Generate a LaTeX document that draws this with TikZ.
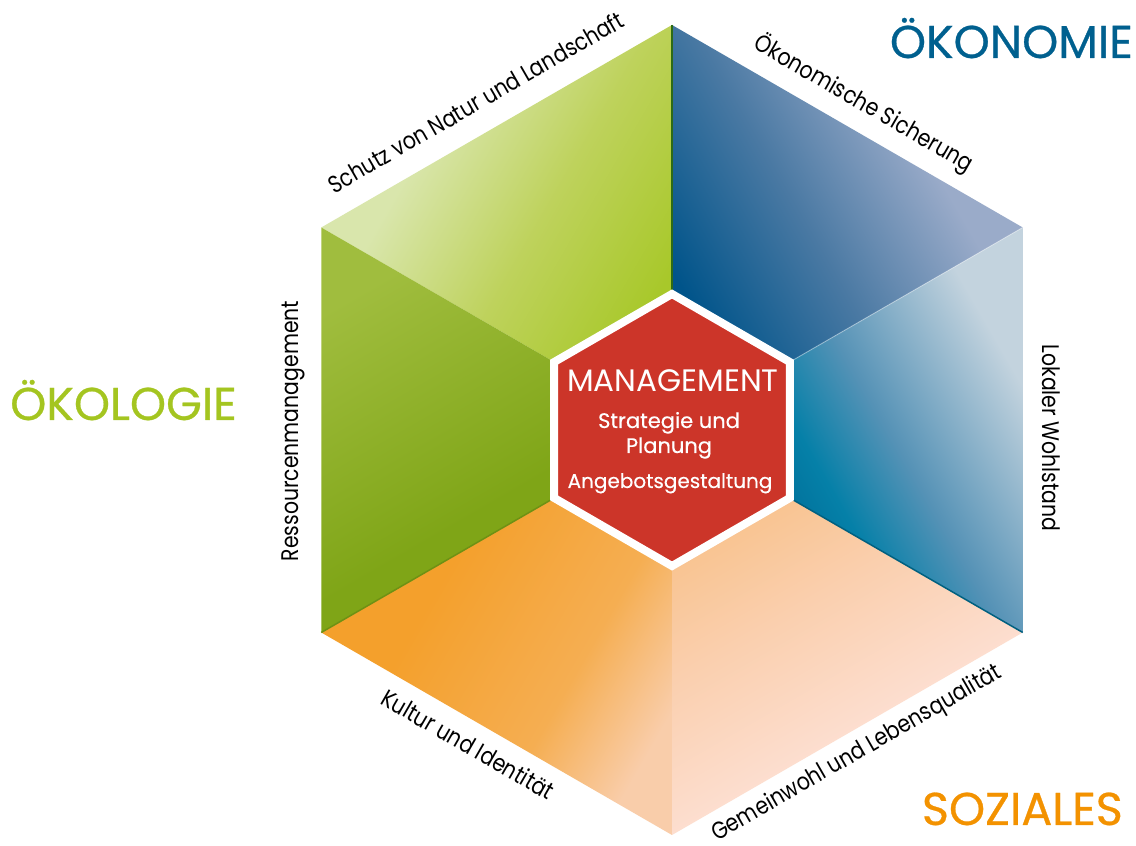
\documentclass[tikz,border=0pt]{standalone}
\usepackage{fontspec}
\usepackage{graphicx}
\setmainfont{Poppins}
\newfontfamily\headfont[FakeBold=0.6]{Poppins}
\newfontfamily\subfont[FakeBold=0.35]{Poppins}
\usetikzlibrary{calc}
\definecolor{okogreen}{HTML}{A4C520}
\definecolor{okoblue}{HTML}{00608F}
\definecolor{sozorange}{HTML}{F39200}
\definecolor{mred}{HTML}{CC3529}
% face colours
\definecolor{tlA}{HTML}{A8C82A}\definecolor{tlB}{HTML}{BED25C}\definecolor{tlC}{HTML}{D9E6AC}
\definecolor{lA}{HTML}{7FA517}\definecolor{lB}{HTML}{A0BD3E}
\definecolor{trA}{HTML}{00548A}\definecolor{trB}{HTML}{4A79A3}\definecolor{trC}{HTML}{9AABC9}
\definecolor{rA}{HTML}{006E98}\definecolor{rB}{HTML}{0580A8}\definecolor{rC}{HTML}{5592B6}\definecolor{rD}{HTML}{C3D3DE}
\definecolor{blA}{HTML}{F9CDAA}\definecolor{blB}{HTML}{F5AE52}\definecolor{blC}{HTML}{F4A02C}
\definecolor{brA}{HTML}{FDE0D4}\definecolor{brM}{HTML}{FACFAE}\definecolor{brB}{HTML}{F8BE82}
\pgfdeclareverticalshading{shTL}{100bp}{color(0bp)=(tlA); color(26.4bp)=(tlA); color(45.3bp)=(tlB); color(64.2bp)=(tlC); color(100bp)=(tlC)}
\pgfdeclareverticalshading{shL}{100bp}{color(0bp)=(lA); color(41.8bp)=(lA); color(74.6bp)=(lB); color(100bp)=(lB)}
\pgfdeclareverticalshading{shTR}{100bp}{color(0bp)=(trA); color(26.4bp)=(trA); color(45.3bp)=(trB); color(64.2bp)=(trC); color(100bp)=(trC)}
\pgfdeclareverticalshading{shR}{100bp}{color(0bp)=(rA); color(35.8bp)=(rA); color(44bp)=(rB); color(54.7bp)=(rC); color(73.6bp)=(rD); color(100bp)=(rD)}
\pgfdeclareverticalshading{shBL}{100bp}{color(0bp)=(blA); color(24bp)=(blA); color(38bp)=(blB); color(60bp)=(blC); color(100bp)=(blC)}
\pgfdeclareverticalshading{shBR}{100bp}{color(0bp)=(brA); color(36bp)=(brA); color(56bp)=(brM); color(76bp)=(brB); color(100bp)=(brB)}
\tikzset{
  edgelabel/.style={anchor=base, inner sep=0pt, text=black, font=\fontsize{24}{24}\selectfont},
  heading/.style={inner sep=0pt, font=\headfont\fontsize{46}{46}\selectfont},
  centertext/.style={anchor=base, inner sep=0pt, text=white},
  seam/.style={line width=1.5pt},
}
\newcommand{\cond}[1]{\scalebox{0.85}[1]{#1}}
\begin{document}
\begin{tikzpicture}[x=1pt,y=1pt]
\useasboundingbox (0,0) rectangle (1136,846);
\fill[white] (0,0) rectangle (1136,846);
\coordinate (C) at (672,416);
\coordinate (T) at ($(C)+(90:405)$);
\coordinate (UR) at ($(C)+(30:405)$);
\coordinate (LR) at ($(C)+(-30:405)$);
\coordinate (B) at ($(C)+(-90:405)$);
\coordinate (LL) at ($(C)+(210:405)$);
\coordinate (UL) at ($(C)+(150:405)$);
% six faces
\shade[shading=shTL, shading angle=60] (UL) -- (T) -- (C) -- cycle;
\shade[shading=shL, shading angle=30] (UL) -- (C) -- (LL) -- cycle;
\shade[shading=shTR, shading angle=-60] (T) -- (UR) -- (C) -- cycle;
\shade[shading=shR, shading angle=-60] (UR) -- (LR) -- (C) -- cycle;
\shade[shading=shBL, shading angle=60] (LL) -- (C) -- (B) -- cycle;
\shade[shading=shBR, shading angle=30] (C) -- (LR) -- (B) -- cycle;
% subtle seams
\draw[seam, color={rgb,255:red,46;green,107;blue,20}] (T) -- (C);
\draw[seam, color={rgb,255:red,110;green,145;blue,20}] (LL) -- (C);
\draw[seam, color={rgb,255:red,0;green,96;blue,128}] (LR) -- (C);
\draw[line width=1pt, white, opacity=0.35] (UR) -- (C);
% centre hexagon
\path[fill=mred, draw=white, line width=8pt, line join=miter]
  ($(C)+(90:136)$) -- ($(C)+(150:136)$) -- ($(C)+(210:136)$) -- ($(C)+(270:136)$) -- ($(C)+(330:136)$) -- ($(C)+(30:136)$) -- cycle;
\node[centertext, font=\fontsize{31}{31}\selectfont] (mg) at (673,454) {MANAGEMENT};
\node[centertext, font=\subfont\fontsize{21}{21}\selectfont] (s1) at (669,418) {Strategie und};
\node[centertext, font=\subfont\fontsize{21}{21}\selectfont] (s2) at (669,393) {Planung};
\node[centertext, font=\subfont\fontsize{20}{20}\selectfont] (s3) at (670,358) {Angebotsgestaltung};
% edge labels
\node[edgelabel, rotate=30] (l1) at (480,736) {\cond{Schutz von Natur und Landschaft}};
\node[edgelabel, rotate=-30] (l2) at (860,736) {\cond{Ökonomische Sicherung}};
\node[edgelabel, rotate=90] (l3) at (298,415) {\cond{Ressourcenmanagement}};
\node[edgelabel, rotate=-90] (l4) at (1042,408) {\cond{Lokaler Wohlstand}};
\node[edgelabel, rotate=-30] (l5) at (463.5,94) {\cond{Kultur und Identität}};
\node[edgelabel, rotate=30] (l6) at (860,87) {\cond{Gemeinwohl und Lebensqualität}};
% headings
\node[heading, anchor=base west, text=okogreen] (h1) at (10,426) {ÖKOLOGIE};
\node[heading, anchor=base east, text=okoblue] (h2) at (1133,788) {ÖKONOMIE};
\node[heading, anchor=base east, text=sozorange] (h3) at (1123,21) {SOZIALES};
\end{tikzpicture}
\end{document}
